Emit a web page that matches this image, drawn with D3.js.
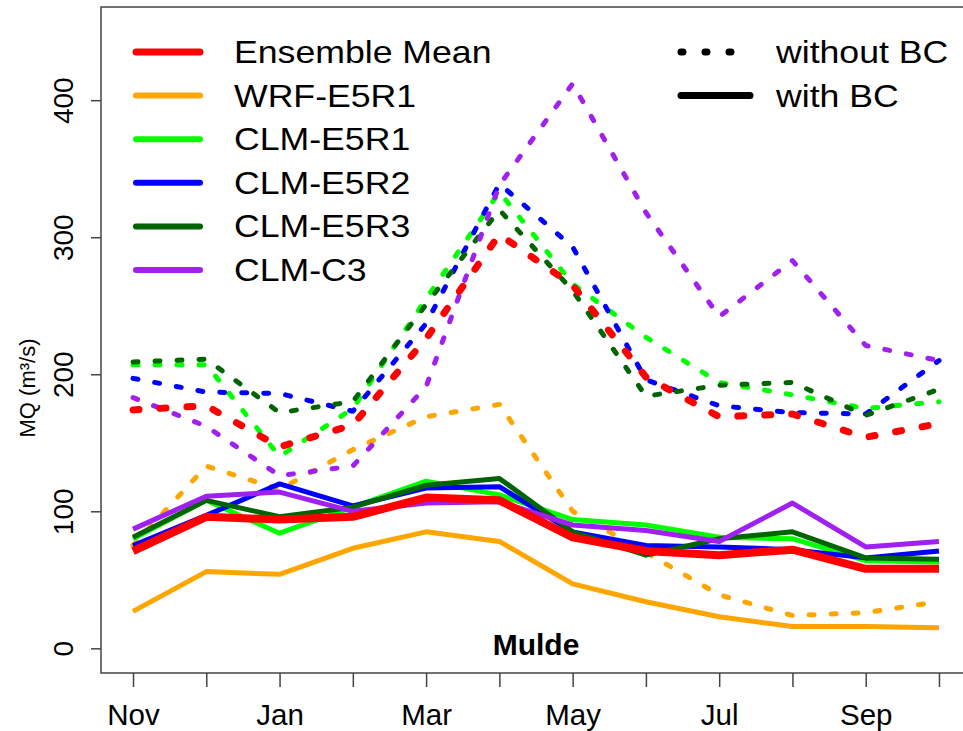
<!DOCTYPE html>
<html>
<head>
<meta charset="utf-8">
<script src="https://cdn.jsdelivr.net/npm/d3@7"></script>
<style>
  body { margin: 0; background: #fff; }
  svg { display: block; font-family: "Liberation Sans", Arial, Helvetica, sans-serif; }
</style>
</head>
<body>
<svg id="chart" width="963" height="731"></svg>
<script>
// months on the x axis (hydrological year)
const months = ["Nov", "Dec", "Jan", "Feb", "Mar", "Apr", "May", "Jun", "Jul", "Aug", "Sep", "Oct"];
const yTicks = [0, 100, 200, 300, 400];

// series names, in legend order
const models = ["Ensemble Mean", "WRF-E5R1", "CLM-E5R1", "CLM-E5R2", "CLM-E5R3", "CLM-C3"];

// MQ (m3/s) with bias correction (solid lines)
const ensMeanBC = [71, 96, 94, 96, 110, 108, 81, 71, 68, 72, 58, 58];
const wrfE5R1BC = [27, 56, 54, 73, 85, 78, 47, 34, 23, 16, 16, 15];
const clmE5R1BC = [80, 108, 84, 103, 122, 112, 94, 90, 81, 80, 64, 63];
const clmE5R2BC = [75, 97, 120, 104, 117, 118, 85, 75, 74, 72, 66, 71];
const clmE5R3BC = [81, 108, 96, 103, 119, 124, 85, 68, 80, 85, 66, 65];
const clmC3BC   = [87, 111, 114, 100, 106, 107, 90, 86, 78, 106, 74, 78];

// MQ (m3/s) without bias correction (dashed lines)
const ensMeanRaw = [174, 177, 147, 163, 226, 302, 265, 198, 169, 171, 154, 164];
const wrfE5R1Raw = [75, 133, 116, 145, 169, 178, 100, 70, 39, 24, 26, 34];
const clmE5R1Raw = [207, 207, 140, 175, 255, 333, 266, 227, 194, 185, 175, 180];
const clmE5R2Raw = [197, 187, 186, 173, 237, 339, 293, 196, 177, 172, 171, 210];
const clmE5R3Raw = [209, 211, 172, 180, 251, 320, 261, 184, 192, 194, 170, 189];
const clmC3Raw   = [183, 162, 126, 133, 191, 338, 412, 318, 242, 283, 221, 210];

const withBC = [ensMeanBC, wrfE5R1BC, clmE5R1BC, clmE5R2BC, clmE5R3BC, clmC3BC];
const withoutBC = [ensMeanRaw, wrfE5R1Raw, clmE5R1Raw, clmE5R2Raw, clmE5R3Raw, clmC3Raw];

const colors = ["#ff0000", "#ffa500", "#00ff00", "#0000ff", "#006400", "#a020f0"];

const svg = d3.select("#chart");

// plot box edges
const boxL = 101, boxR = 971, boxT = 7, boxB = 673;

const x = d3.scalePoint().domain(months).range([boxL, boxR]).padding(0.437);
const y = d3.scaleLinear().domain([-18, 468]).range([boxB, boxT]);

const line = d3.line()
    .x((d, i) => x(months[i]))
    .y(d => y(d));

// draw order: models first, ensemble mean on top
const order = [1, 2, 3, 4, 5, 0];

// dashed = without BC (drawn underneath)
order.forEach(k => {
    const isMean = k === 0;
    svg.append("path")
        .datum(withoutBC[k])
        .attr("d", line)
        .attr("fill", "none")
        .attr("stroke", colors[k])
        .attr("stroke-width", isMean ? 7 : 5)
        .attr("stroke-linecap", "round")
        .attr("stroke-linejoin", "round")
        .attr("stroke-dasharray", isMean ? "6,21" : "5,17");
});

// solid = with BC
order.forEach(k => {
    svg.append("path")
        .datum(withBC[k])
        .attr("d", line)
        .attr("fill", "none")
        .attr("stroke", colors[k])
        .attr("stroke-width", k === 0 ? 8 : 5)
        .attr("stroke-linejoin", "round");
});

// box
svg.append("rect")
    .attr("x", boxL).attr("y", boxT)
    .attr("width", boxR - boxL).attr("height", boxB - boxT)
    .attr("fill", "none")
    .attr("stroke", "#444")
    .attr("stroke-width", 1.5);

// y axis
const yAxis = svg.append("g")
    .attr("transform", `translate(${boxL},0)`)
    .call(d3.axisLeft(y).tickValues(yTicks).tickSize(10).tickPadding(0));
yAxis.select(".domain").remove();
yAxis.selectAll(".tick line").attr("stroke", "#444").attr("stroke-width", 1.5);
yAxis.selectAll(".tick text")
    .attr("x", 0).attr("y", 0).attr("dy", 0)
    .attr("transform", "translate(-28,0) rotate(-90)")
    .attr("text-anchor", "middle")
    .attr("fill", "#000")
    .style("font-size", "28px")
    .style("font-family", "Liberation Sans, Arial, sans-serif");

// x axis
const xAxis = svg.append("g")
    .attr("transform", `translate(0,${boxB})`)
    .call(d3.axisBottom(x).tickSize(14).tickFormat((d, i) => i % 2 === 0 ? d : ""));
xAxis.select(".domain").remove();
xAxis.selectAll(".tick line").attr("stroke", "#444").attr("stroke-width", 1.5);
xAxis.selectAll(".tick text")
    .attr("y", 52).attr("dy", 0)
    .attr("fill", "#000")
    .style("font-size", "29.5px")
    .style("font-family", "Liberation Sans, Arial, sans-serif");

// y axis title
svg.append("text")
    .attr("transform", "translate(35,388) rotate(-90)")
    .attr("text-anchor", "middle")
    .style("font-size", "22px")
    .text("MQ (m³/s)");

// panel title
svg.append("text")
    .attr("x", (boxL + boxR) / 2)
    .attr("y", 655)
    .attr("text-anchor", "middle")
    .style("font-size", "30px")
    .style("font-weight", "bold")
    .text("Mulde");

// legend: models
const legend = svg.append("g");
models.forEach((m, k) => {
    const ly = 52 + k * 43.6;
    legend.append("line")
        .attr("x1", 136).attr("x2", 200)
        .attr("y1", ly).attr("y2", ly)
        .attr("stroke", colors[k])
        .attr("stroke-width", k === 0 ? 7 : 6)
        .attr("stroke-linecap", "round");
    legend.append("text")
        .attr("transform", `translate(234,${ly + 11}) scale(1.15,1)`)
        .style("font-size", "31px")
        .text(m);
});

// legend: line types
const types = ["without BC", "with BC"];
types.forEach((t, k) => {
    const ly = 52 + k * 43.6;
    legend.append("line")
        .attr("x1", 681).attr("x2", 750)
        .attr("y1", ly).attr("y2", ly)
        .attr("stroke", "#000")
        .attr("stroke-width", 7)
        .attr("stroke-linecap", "round")
        .attr("stroke-dasharray", k === 0 ? "2,22" : null);
    legend.append("text")
        .attr("transform", `translate(776,${ly + 11}) scale(1.15,1)`)
        .style("font-size", "31px")
        .text(t);
});
</script>
</body>
</html>
